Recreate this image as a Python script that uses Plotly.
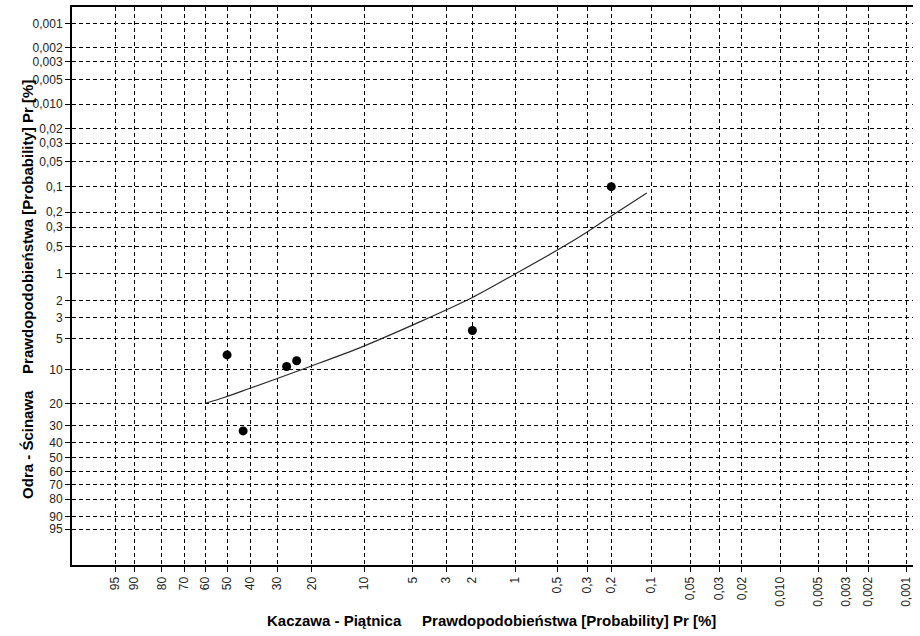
from statistics import NormalDist
import plotly.graph_objects as go

# ---- data (probabilities in %) ----
x_ticks = [95, 90, 80, 70, 60, 50, 40, 30, 20, 10, 5, 3, 2, 1, 0.5, 0.3, 0.2, 0.1,
           0.05, 0.03, 0.02, 0.01, 0.005, 0.003, 0.002, 0.001]
x_tick_text = ["95", "90", "80", "70", "60", "50", "40", "30", "20", "10", "5", "3", "2", "1",
               "0,5", "0,3", "0,2", "0,1", "0,05", "0,03", "0,02", "0,010", "0,005", "0,003",
               "0,002", "0,001"]
y_ticks = [0.001, 0.002, 0.003, 0.005, 0.01, 0.02, 0.03, 0.05, 0.1, 0.2, 0.3, 0.5, 1, 2, 3, 5,
           10, 20, 30, 40, 50, 60, 70, 80, 90, 95]
y_tick_text = ["0,001", "0,002", "0,003", "0,005", "0,010", "0,02", "0,03", "0,05", "0,1", "0,2",
               "0,3", "0,5", "1", "2", "3", "5", "10", "20", "30", "40", "50", "60", "70", "80",
               "90", "95"]

# joint probability curve
curve_px = [60, 51, 41, 20.4, 10.6, 4.5, 2, 1, 0.5, 0.3, 0.2, 0.108]
curve_py = [19.9, 17.7, 15.0, 9.3, 6.1, 3.34, 1.84, 1.01, 0.548, 0.337, 0.221, 0.119]

# observed events
obs_px = [50, 43, 27, 24, 2, 0.2]
obs_py = [7.2, 33, 9.3, 8.2, 4.1, 0.1]

# ---- probability-paper scale (Pearson III, Wilson-Hilferty) ----
CS = 0.9
_nd = NormalDist()


def k(p):
    z = _nd.inv_cdf(1 - p / 100.0)
    return (2 / CS) * ((1 + CS * z / 6 - CS * CS / 36) ** 3 - 1)


def ks(ps):
    return [k(p) for p in ps]


FONT = "Liberation Sans, Arial, sans-serif"

fig = go.Figure()
fig.add_trace(go.Scatter(x=ks(curve_px), y=ks(curve_py), mode="lines",
                         line=dict(color="#2a2a2a", width=1.2, shape="spline", smoothing=0.8),
                         showlegend=False, hoverinfo="skip"))
fig.add_trace(go.Scatter(x=ks(obs_px), y=ks(obs_py), mode="markers",
                         marker=dict(color="black", size=9),
                         showlegend=False))

axis_common = dict(
    showgrid=True, gridcolor="#000000", gridwidth=1, griddash="4px,3px",
    zeroline=False, showline=True, linecolor="black", linewidth=2,
    ticks="outside", ticklen=5, tickcolor="black", tickwidth=1,
    tickfont=dict(family=FONT, size=12, color="#222222"),
)

fig.update_xaxes(**axis_common, tickmode="array", tickvals=ks(x_ticks), ticktext=x_tick_text,
                 tickangle=-90, range=[-1.819, 7.251], mirror=True)
fig.update_yaxes(**axis_common, tickmode="array", tickvals=ks(y_ticks), ticktext=y_tick_text,
                 range=[-1.962, 7.462])

nb = "\u00a0"
fig.add_annotation(text="<b>Kaczawa - Piątnica" + nb * 5 + "Prawdopodobieństwa [Probability] Pr [%]</b>",
                   xref="paper", yref="paper", x=0.4988, y=-0.1, xanchor="center", yanchor="middle",
                   showarrow=False, font=dict(family=FONT, size=15, color="black"))
fig.add_annotation(text="<b>Odra - Ścinawa" + nb * 4 + "Prawdopodobieństwa [Probability] Pr [%]</b>",
                   xref="paper", yref="paper", x=-0.0523, y=0.493, xanchor="center", yanchor="middle",
                   textangle=-90, showarrow=False, font=dict(family=FONT, size=15, color="black"))

fig.update_layout(width=920, height=636, margin=dict(l=72, r=7, t=5, b=71),
                  plot_bgcolor="white", paper_bgcolor="white", showlegend=False)
fig.write_html("out.html")
